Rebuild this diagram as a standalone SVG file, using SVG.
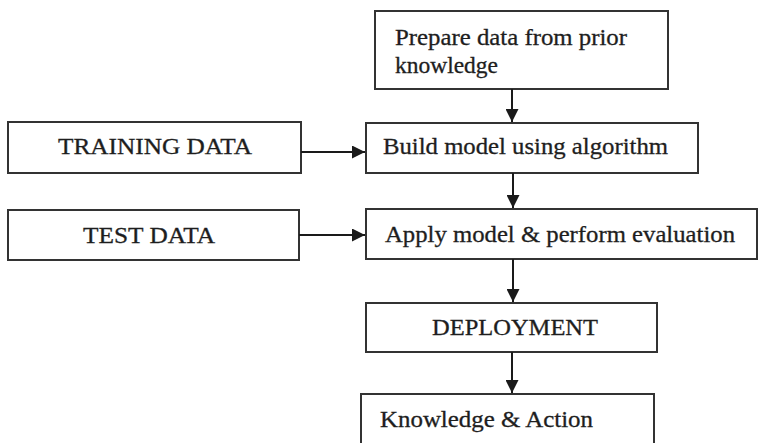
<svg xmlns="http://www.w3.org/2000/svg" width="758" height="443" viewBox="0 0 758 443">
  <defs>
    <marker id="arrowhead" markerWidth="13" markerHeight="13" refX="13" refY="6.5" orient="auto" markerUnits="userSpaceOnUse">
      <path d="M0,0 L13,6.5 L0,13 Z" fill="#1a1a1a"/>
    </marker>
  </defs>
  <style>
    .box { fill: #ffffff; stroke: #333333; stroke-width: 2; }
    .label { font-family: "Liberation Serif", "Times New Roman", serif; font-size: 23px; fill: #1e1e1e; stroke: #1e1e1e; stroke-width: 0.3; }
    .edge { stroke: #1a1a1a; stroke-width: 2; fill: none; marker-end: url(#arrowhead); }
  </style>
  <rect width="758" height="443" fill="#ffffff"/>

  <g id="prepare">
    <rect class="box" x="375" y="11" width="293" height="78"/>
    <text class="label" x="395" y="45" textLength="232" lengthAdjust="spacingAndGlyphs">Prepare data from prior</text>
    <text class="label" x="395" y="73" textLength="103" lengthAdjust="spacingAndGlyphs">knowledge</text>
  </g>

  <g id="training">
    <rect class="box" x="8" y="122" width="293" height="51"/>
    <text class="label" x="58" y="154" textLength="194" lengthAdjust="spacingAndGlyphs">TRAINING DATA</text>
  </g>

  <g id="build">
    <rect class="box" x="366" y="123" width="332" height="50"/>
    <text class="label" x="383" y="154" textLength="285" lengthAdjust="spacingAndGlyphs">Build model using algorithm</text>
  </g>

  <g id="test">
    <rect class="box" x="8" y="210" width="291" height="50"/>
    <text class="label" x="83" y="243" textLength="132" lengthAdjust="spacingAndGlyphs">TEST DATA</text>
  </g>

  <g id="apply">
    <rect class="box" x="366" y="209" width="391" height="50"/>
    <text class="label" x="385" y="242" textLength="350" lengthAdjust="spacingAndGlyphs">Apply model &amp; perform evaluation</text>
  </g>

  <g id="deployment">
    <rect class="box" x="366" y="303" width="291" height="49"/>
    <text class="label" x="432" y="335" textLength="166" lengthAdjust="spacingAndGlyphs">DEPLOYMENT</text>
  </g>

  <g id="knowledge-action">
    <rect class="box" x="361" y="394" width="293" height="60"/>
    <text class="label" x="380" y="427" textLength="213" lengthAdjust="spacingAndGlyphs">Knowledge &amp; Action</text>
  </g>

  <g id="connectors">
    <line class="edge" x1="512" y1="89" x2="512" y2="122"/>
    <line class="edge" x1="301" y1="152" x2="365" y2="152"/>
    <line class="edge" x1="513" y1="173" x2="513" y2="208"/>
    <line class="edge" x1="299" y1="235" x2="365" y2="235"/>
    <line class="edge" x1="513" y1="259" x2="513" y2="302"/>
    <line class="edge" x1="512" y1="352" x2="512" y2="393"/>
  </g>
</svg>
